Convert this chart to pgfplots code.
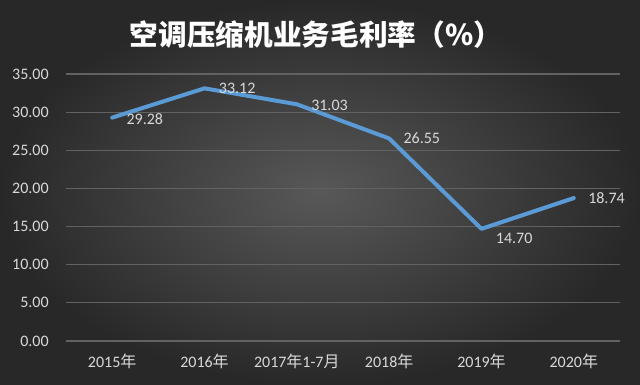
\documentclass[border=0pt]{standalone}
\usepackage{pgfplots}
\pgfplotsset{compat=1.18}
\usepackage{fontspec}
\setmainfont{Carlito}
\newfontfamily\cjk{Noto Sans CJK SC}
\definecolor{bgin}{HTML}{585858}
\definecolor{bgout}{HTML}{282828}
\definecolor{gridc}{HTML}{626262}
\definecolor{txt}{HTML}{D9D9D9}
\definecolor{line}{HTML}{5B9BD5}
\begin{document}
\begin{tikzpicture}
\shade[inner color=bgin, outer color=bgout] (0,0) rectangle (480pt,288.75pt);
\useasboundingbox (0,0) rectangle (480pt,288.75pt);
\node[text=white, font=\cjk\bfseries\fontsize{21.5}{25}\selectfont] at (237pt,263pt) {空调压缩机业务毛利率（\%）};
\begin{axis}[
  at={(49.5pt,33pt)}, anchor=south west,
  scale only axis, width=415.5pt, height=200.25pt,
  xmin=-0.5, xmax=5.5, ymin=0, ymax=35,
  axis line style={draw=none},
  xtick style={draw=none}, ytick style={draw=none},
  ytick={0,5,...,35},
  xmajorgrids=false, ymajorgrids=true,
  major grid style={draw=gridc, line width=0.8pt},
  xtick={0,1,2,3,4,5},
  xticklabels={2015{\cjk 年},2016{\cjk 年},2017{\cjk 年}1-7{\cjk 月},2018{\cjk 年},2019{\cjk 年},2020{\cjk 年}},
  yticklabel style={/pgf/number format/fixed, /pgf/number format/fixed zerofill, /pgf/number format/precision=2, /pgf/number format/assume math mode=true, xshift=-9.5pt},
  every tick label/.append style={text=txt, font=\fontsize{12}{14}\selectfont},
  xticklabel style={yshift=-6pt},
  nodes near coords,
  point meta=explicit symbolic,
  visualization depends on={\thisrow{dy} \as \dy},
  every node near coord/.append style={anchor=west, xshift=6pt, yshift=\dy, text=txt, font=\fontsize{12}{14}\selectfont},
]
\addplot[line, line width=3pt, line join=round, line cap=round, mark=none] table[x=x, y=y, meta=lab] {
x y lab dy
0 29.28 29.28 -1
1 33.12 33.12 0
2 31.03 31.03 -1
3 26.55 26.55 0
4 14.70 14.70 -7
5 18.74 18.74 0
};
\end{axis}
\end{tikzpicture}
\end{document}
